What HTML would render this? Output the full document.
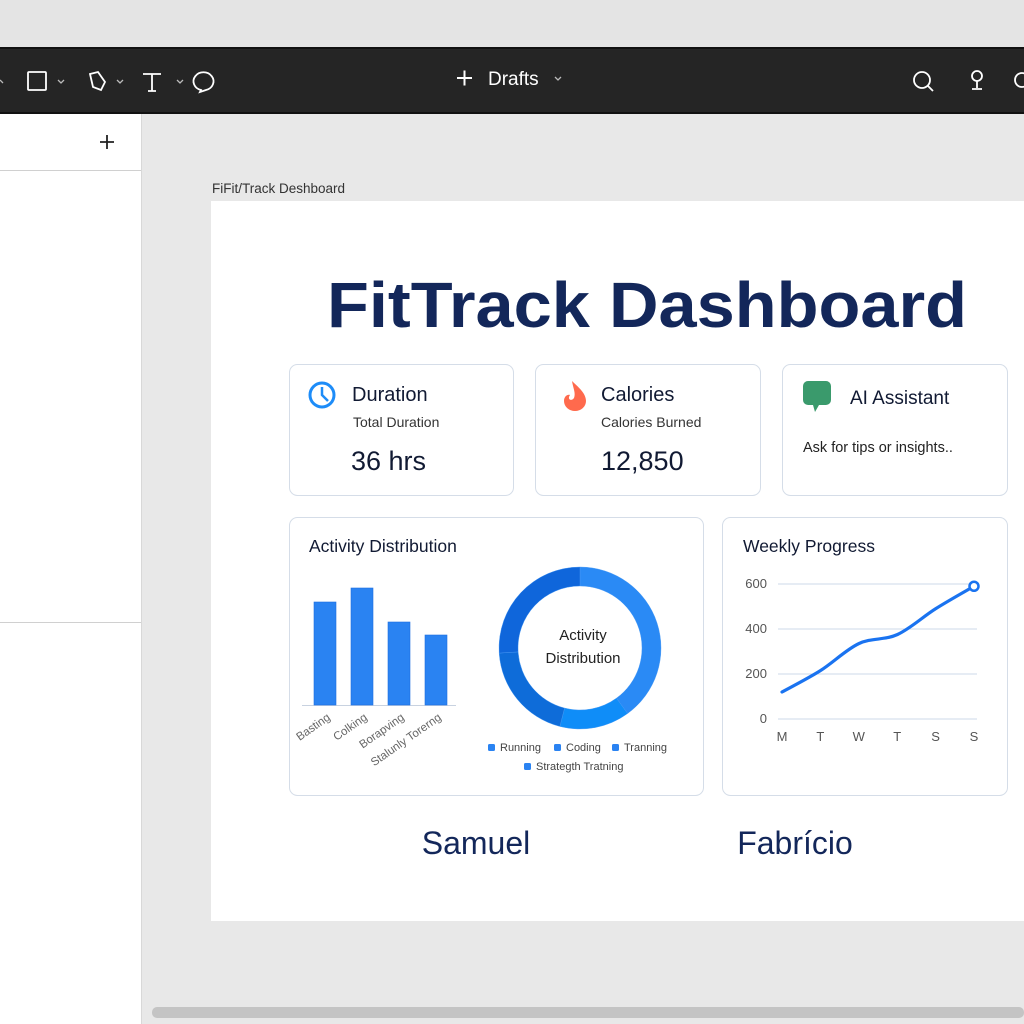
<!DOCTYPE html>
<html><head><meta charset="utf-8"><style>
html,body{margin:0;padding:0;width:1024px;height:1024px;overflow:hidden;background:#e8e8e8;font-family:"Liberation Sans",sans-serif}
svg text{font-family:"Liberation Sans",sans-serif}
</style></head><body>
<svg id="root" width="1024" height="1024" viewBox="0 0 1024 1024" xmlns="http://www.w3.org/2000/svg">
<rect x="0" y="0" width="1024" height="1024" fill="#e8e8e8"/>
<rect x="0" y="0" width="1024" height="47" fill="#e4e4e4"/>
<g>
<rect x="0" y="47" width="1024" height="67" fill="#252525"/>
<rect x="0" y="47" width="1024" height="2" fill="#111"/>
<rect x="0" y="112" width="1024" height="2" fill="#111"/>
<g stroke="#fff" fill="none" stroke-width="1.8">
<rect x="28" y="72" width="18" height="18" rx="1"/>
<path d="M58 80l3 3 3-3M117 80l3 3 3-3M177 80l3 3 3-3M555 77l3 3 3-3M0 80l3 3" stroke-width="1.3" stroke="#bbb"/>
<path d="M90 74l8-2 7 10-4 8-8-3z"/>
<path d="M143 74h18M152 74v17M148 91h8"/>
<path d="M201 90a10 9 0 1 1 5 0l-6 2z"/>
<path d="M457 78h15M464.5 70.5v15" stroke-width="2"/>
<circle cx="922" cy="80" r="8"/><path d="M928 86l5 5"/>
<circle cx="977" cy="76" r="5"/><path d="M977 81v7M972 89h10"/>
<circle cx="1022" cy="80" r="7"/>
</g>
<text x="488" y="85" font-size="19" fill="#fff">Drafts</text>
</g>
<g>
<rect x="0" y="114" width="141" height="910" fill="#fff"/>
<rect x="141" y="114" width="1" height="910" fill="#d8d8d8"/>
<rect x="0" y="170" width="141" height="1" fill="#d0d0d0"/>
<rect x="0" y="622" width="141" height="1" fill="#d0d0d0"/>
<path d="M107 135v14M100 142h14" stroke="#222" stroke-width="1.8"/>
</g>
<rect x="152" y="1007" width="872" height="11" rx="5" fill="#c4c4c4"/>
<text x="212" y="193" font-size="13.5" fill="#333">FiFit/Track Deshboard</text>
<rect x="211" y="201" width="813" height="720" fill="#fff"/>
<text x="647" y="327" font-size="64" font-weight="bold" fill="#13275a" text-anchor="middle" textLength="640" lengthAdjust="spacingAndGlyphs">FitTrack Dashboard</text>

<g>
<rect x="289.5" y="364.5" width="224" height="131" rx="8" fill="#fff" stroke="#d5dde8"/>
<circle cx="322" cy="395" r="12" fill="none" stroke="#1d8cf8" stroke-width="3"/>
<path d="M322 387v8l6 6" stroke="#1d8cf8" stroke-width="2.5" fill="none"/>
<text x="352" y="401" font-size="20" fill="#111a33">Duration</text>
<text x="353" y="427" font-size="14" fill="#333">Total Duration</text>
<text x="351" y="470" font-size="27" fill="#111a33">36 hrs</text>
</g>
<g>
<rect x="535.5" y="364.5" width="225" height="131" rx="8" fill="#fff" stroke="#d5dde8"/>
<path d="M572 381c6 6 14 12 14 20a11 10 0 0 1-22 0c0-5 4-7 6-6-3 4 1 7 4 3 2-5-1-10-2-17z" fill="#ff6a4d"/>
<text x="601" y="401" font-size="20" fill="#111a33">Calories</text>
<text x="601" y="427" font-size="14" fill="#333">Calories Burned</text>
<text x="601" y="470" font-size="27" fill="#111a33">12,850</text>
</g>
<g>
<rect x="782.5" y="364.5" width="225" height="131" rx="8" fill="#fff" stroke="#d5dde8"/>
<path d="M808 381h18a5 5 0 0 1 5 5v14a5 5 0 0 1-5 5h-7l-4 7-2-7h-5a5 5 0 0 1-5-5v-14a5 5 0 0 1 5-5z" fill="#3a9a6c"/>
<text x="850" y="404" font-size="19" fill="#111a33">AI Assistant</text>
<text x="803" y="452" font-size="14.5" fill="#222">Ask for tips or insights..</text>
</g>

<g>
<rect x="289.5" y="517.5" width="414" height="278" rx="8" fill="#fff" stroke="#d5dde8"/>
<text x="309" y="552" font-size="17.5" fill="#111a33">Activity Distribution</text>
<g id="bars"></g>
<g id="donut"></g>
<text x="583" y="640" font-size="15" fill="#222" text-anchor="middle">Activity</text>
<text x="583" y="663" font-size="15" fill="#222" text-anchor="middle">Distribution</text>
<g id="legend"></g>
</g>
<g>
<rect x="722.5" y="517.5" width="285" height="278" rx="8" fill="#fff" stroke="#d5dde8"/>
<text x="743" y="552" font-size="17.5" fill="#111a33">Weekly Progress</text>
<g id="line"></g>
</g>
<text x="476" y="854" font-size="32" fill="#13275a" text-anchor="middle">Samuel</text>
<text x="795" y="854" font-size="32" fill="#13275a" text-anchor="middle">Fabrício</text>
</svg>
<script>
const barCategories=["Basting","Colking","Borapving","Stalunly Torerng"];
const barValues=[103,117,83,70];
const donutLabels=["Running","Coding","Tranning","Stretegth Tratning"];
const donutValues=[40,14,20,26];
const donutColors=["#2a8af5","#0f8df8","#0e6cd9","#0f66db"];
const legendLabels=["Running","Coding","Tranning","Strategth Tratning"];
const weekDays=["M","T","W","T","S","S"];
const weekValues=[120,215,335,375,490,590];
const yTicks=[0,200,400,600];

const NS="http://www.w3.org/2000/svg";
function mk(t,a,p){const e=document.createElementNS(NS,t);for(const k in a)e.setAttribute(k,a[k]);p.appendChild(e);return e;}

// bars
const bg=document.getElementById('bars');
const base=705, bx0=314, bStep=37, bW=22;
const bScale=v=>v*1.0;
mk('line',{x1:302,x2:456,y1:base+0.5,y2:base+0.5,stroke:'#c8d2e0'},bg);
barCategories.forEach((c,i)=>{
  const h=bScale(barValues[i]);
  const r=mk('rect',{x:bx0+i*bStep,y:base-h,width:bW,height:h,fill:'#2a83f2',stroke:'#1f6fe0','stroke-width':0.6},bg);
  
  
  const cx=bx0+i*bStep+bW/2+6;
  const t=mk('text',{x:cx,y:base+14,'font-size':11.5,fill:'#666','text-anchor':'end',transform:`rotate(-35 ${cx} ${base+14})`},bg);
  t.textContent=c;
  
  
});

// donut
const dg=document.getElementById('donut');
const cx=580,cy=648,R=81,r0=62;
const tot=donutValues.reduce((a,b)=>a+b,0);
let ang=0;
function pt(rad,a){return [cx+rad*Math.sin(a),cy-rad*Math.cos(a)];}
donutValues.forEach((v,i)=>{
  const a0=ang, a1=ang+v/tot*2*Math.PI; ang=a1;
  const L=(a1-a0)>Math.PI?1:0;
  const [x0,y0]=pt(R,a0),[x1,y1]=pt(R,a1),[x2,y2]=pt(r0,a1),[x3,y3]=pt(r0,a0);
  const p=mk('path',{d:`M${x0} ${y0}A${R} ${R} 0 ${L} 1 ${x1} ${y1}L${x2} ${y2}A${r0} ${r0} 0 ${L} 0 ${x3} ${y3}Z`,fill:donutColors[i],stroke:'#4a9af5','stroke-width':0.4},dg);
  
  
});

// legend
const lg=document.getElementById('legend');
const legPos=[[488,751],[554,751],[612,751],[524,770]];
legendLabels.forEach((l,i)=>{
  const [x,y]=legPos[i];
  mk('rect',{x:x,y:y-7,width:7,height:7,rx:1.5,fill:'#2a83f2'},lg);
  const t=mk('text',{x:x+12,y:y,'font-size':11,fill:'#444'},lg);
  t.textContent=l;
  
  
});

// line chart
const lgp=document.getElementById('line');
const x0=782,x1=974,yb=719,yt=584,ymax=600;
const xs=i=>x0+i*(x1-x0)/(weekDays.length-1);
const ys=v=>yb-(v/ymax)*(yb-yt);
yTicks.forEach(t=>{
  mk('line',{x1:778,x2:977,y1:ys(t),y2:ys(t),stroke:'#cdd8ea'},lgp);
  const tx=mk('text',{x:767,y:ys(t)+4,'font-size':13,fill:'#555','text-anchor':'end'},lgp);
  tx.textContent=t;
  
  
});
weekDays.forEach((d,i)=>{
  const tx=mk('text',{x:xs(i),y:741,'font-size':13,fill:'#555','text-anchor':'middle'},lgp);
  tx.textContent=d;
  
  
});
const P=weekValues.map((v,i)=>[xs(i),ys(v)]);
let d=`M${P[0][0]} ${P[0][1]}`;
for(let i=0;i<P.length-1;i++){
  const p0=P[Math.max(0,i-1)],p1=P[i],p2=P[i+1],p3=P[Math.min(P.length-1,i+2)];
  const c1=[p1[0]+(p2[0]-p0[0])/6,p1[1]+(p2[1]-p0[1])/6];
  const c2=[p2[0]-(p3[0]-p1[0])/6,p2[1]-(p3[1]-p1[1])/6];
  d+=`C${c1[0]} ${c1[1]} ${c2[0]} ${c2[1]} ${p2[0]} ${p2[1]}`;
}
const ln=mk('path',{d:d,fill:'none',stroke:'#1a73f0','stroke-width':3.2,'stroke-linecap':'round'},lgp);


const last=P[P.length-1];
const dot=mk('circle',{cx:last[0],cy:last[1],r:4.5,fill:'#fff',stroke:'#1a73f0','stroke-width':2.5},lgp);


</script>
</body></html>
